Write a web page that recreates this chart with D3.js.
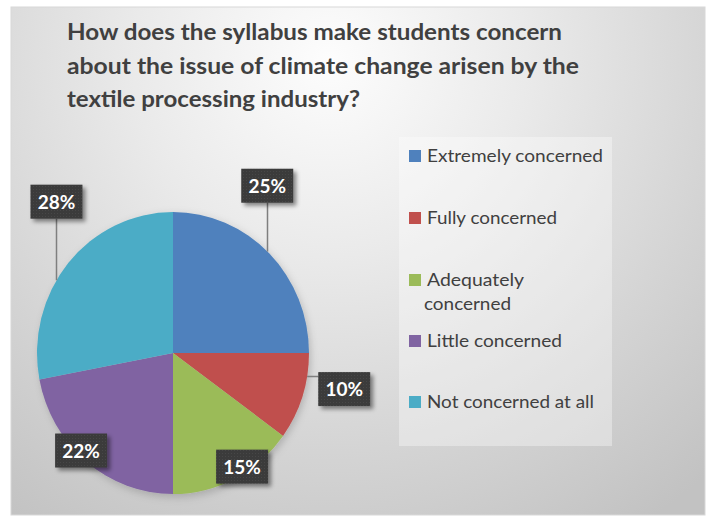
<!DOCTYPE html>
<html>
<head>
<meta charset="utf-8">
<script src="https://cdn.jsdelivr.net/npm/d3@7/dist/d3.min.js"></script>
<style>
  html, body { margin: 0; padding: 0; background: #ffffff; }
  svg { display: block; }
</style>
</head>
<body>
<svg id="chart" width="711" height="522"></svg>
<script>
// ---- data ----
const categories = ["Extremely concerned", "Fully concerned", "Adequately concerned", "Little concerned", "Not concerned at all"];
const values = [25, 10, 15, 22, 28];
const colors = ["#4F81BD", "#C0504D", "#9BBB59", "#8064A2", "#4BACC6"];
const valueLabels = ["25%", "10%", "15%", "22%", "28%"];
const titleLines = [
  "How does the syllabus make students concern",
  "about the issue of climate change arisen by the",
  "textile processing industry?"
];
const legendLines = [["Extremely concerned"], ["Fully concerned"], ["Adequately", "concerned"], ["Little concerned"], ["Not concerned at all"]];

// ---- layout (presentation only) ----
const W = 711, H = 522;
const cx = 173, cy = 353, R = 141, xScale = 136 / 141;
// label placement: polar angle (deg, clockwise from 12 o'clock) and distance from centre
const labelPlace = [
  { a: 29.4, d: 192 }, { a: 101.9, d: 175 }, { a: 148.7, d: 133 }, { a: 223.3, d: 134 }, { a: 322.4, d: 191 }
];
const titleWidths = [495, 512, 293];
const legendWidths = [[176], [130], [97, 87], [135], [167]];
const legendBaselines = [[162], [224], [286, 310], [347], [408]];

const svg = d3.select("#chart");
const defs = svg.append("defs");

const bg = defs.append("radialGradient").attr("id", "bg")
  .attr("gradientUnits", "userSpaceOnUse")
  .attr("cx", 330).attr("cy", 60).attr("r", 560);
bg.append("stop").attr("offset", "0").attr("stop-color", "#fdfdfd");
bg.append("stop").attr("offset", "0.35").attr("stop-color", "#eaeaea");
bg.append("stop").attr("offset", "0.7").attr("stop-color", "#d4d4d4");
bg.append("stop").attr("offset", "1").attr("stop-color", "#c2c2c2");

const sh = defs.append("filter").attr("id", "shadow").attr("x", "-30%").attr("y", "-30%").attr("width", "170%").attr("height", "170%");
sh.append("feDropShadow").attr("dx", 3).attr("dy", 3).attr("stdDeviation", 2)
  .attr("flood-color", "#000").attr("flood-opacity", 0.45);

const pieSh = defs.append("filter").attr("id", "pieShadow").attr("x", "-20%").attr("y", "-20%").attr("width", "140%").attr("height", "140%");
pieSh.append("feDropShadow").attr("dx", 2).attr("dy", 3).attr("stdDeviation", 4)
  .attr("flood-color", "#000").attr("flood-opacity", 0.18);

const tex = defs.append("pattern").attr("id", "tex").attr("width", 3).attr("height", 3).attr("patternUnits", "userSpaceOnUse");
tex.append("rect").attr("width", 3).attr("height", 3).attr("fill", "#3a3a3a");
tex.append("rect").attr("width", 1).attr("height", 1).attr("fill", "#474747");

// chart area
svg.append("rect").attr("x", 11).attr("y", 7).attr("width", 694).attr("height", 508)
  .attr("fill", "url(#bg)").attr("stroke", "#d8d8d8").attr("stroke-width", 1);

// title
const title = svg.append("g");
titleLines.forEach((t, i) => {
  title.append("text")
    .attr("x", 67).attr("y", 40 + i * 33.5)
    .attr("font-family", "Lato, 'Open Sans', sans-serif")
    .attr("font-weight", 700).attr("font-size", 23)
    .attr("fill", "#404040")
    .attr("textLength", titleWidths[i]).attr("lengthAdjust", "spacingAndGlyphs")
    .text(t);
});

// pie
const pie = d3.pie().sort(null).value(d => d)(values);
const arc = d3.arc().innerRadius(0).outerRadius(R);
const pg = svg.append("g").attr("transform", `translate(${cx},${cy}) scale(${xScale},1)`).attr("filter", "url(#pieShadow)");
pg.selectAll("path").data(pie).join("path")
  .attr("d", arc)
  .attr("fill", (d, i) => colors[i]);

// leader lines + labels
const boxW = 52, boxH = 34;
const lg = svg.append("g");
function ellipseY(dx) { const t = 1 - Math.pow(dx / (R * xScale), 2); return R * Math.sqrt(Math.max(0, t)); }
function ellipseX(dy) { const t = 1 - Math.pow(dy / R, 2); return R * xScale * Math.sqrt(Math.max(0, t)); }
pie.forEach((p, i) => {
  const pl = labelPlace[i];
  const ang = pl.a * Math.PI / 180;
  const lx = cx + pl.d * Math.sin(ang);
  const ly = cy - pl.d * Math.cos(ang);
  const bx = lx - boxW / 2, by = ly - boxH / 2;
  // leader line for labels placed outside the pie
  if (pl.d > R * 1.15) {
    const dx = lx - cx, dy = ly - cy;
    if (Math.abs(dy) > Math.abs(dx)) {
      const lxx = Math.round(lx) + 0.5;
      const yEdge = cy + Math.sign(dy) * ellipseY(lxx - cx);
      const yBox = dy < 0 ? by + boxH : by;
      lg.append("line").attr("x1", lxx).attr("x2", lxx).attr("y1", yBox).attr("y2", yEdge)
        .attr("stroke", "#7f7f7f").attr("stroke-width", 1.5);
    } else {
      const lyy = Math.round(by + 4) + 0.5;
      const xEdge = cx + Math.sign(dx) * ellipseX(lyy - cy);
      const xBox = dx > 0 ? bx : bx + boxW;
      lg.append("line").attr("x1", xEdge).attr("x2", xBox).attr("y1", lyy).attr("y2", lyy)
        .attr("stroke", "#7f7f7f").attr("stroke-width", 1.5);
    }
  }
  const g = lg.append("g");
  g.append("rect").attr("x", bx).attr("y", by).attr("width", boxW).attr("height", boxH)
    .attr("fill", "url(#tex)").attr("filter", "url(#shadow)");
  g.append("text").attr("x", lx).attr("y", ly + 7)
    .attr("text-anchor", "middle")
    .attr("font-family", "Lato, 'Open Sans', sans-serif")
    .attr("font-weight", 700).attr("font-size", 19)
    .attr("fill", "#ffffff")
    .text(valueLabels[i]);
});

// legend
const leg = svg.append("g");
leg.append("rect").attr("x", 399).attr("y", 137).attr("width", 213).attr("height", 309)
  .attr("fill", "#ffffff").attr("fill-opacity", 0.35);
categories.forEach((c, i) => {
  const base = legendBaselines[i];
  leg.append("rect").attr("x", 409).attr("y", base[0] - 12).attr("width", 12).attr("height", 12)
    .attr("fill", colors[i]);
  legendLines[i].forEach((ln, j) => {
    leg.append("text")
      .attr("x", j === 0 ? 427 : 424).attr("y", base[j])
      .attr("font-family", "Lato, 'Open Sans', sans-serif")
      .attr("font-size", 17).attr("fill", "#404040")
      .attr("textLength", legendWidths[i][j]).attr("lengthAdjust", "spacingAndGlyphs")
      .text(ln);
  });
});
</script>
</body>
</html>
